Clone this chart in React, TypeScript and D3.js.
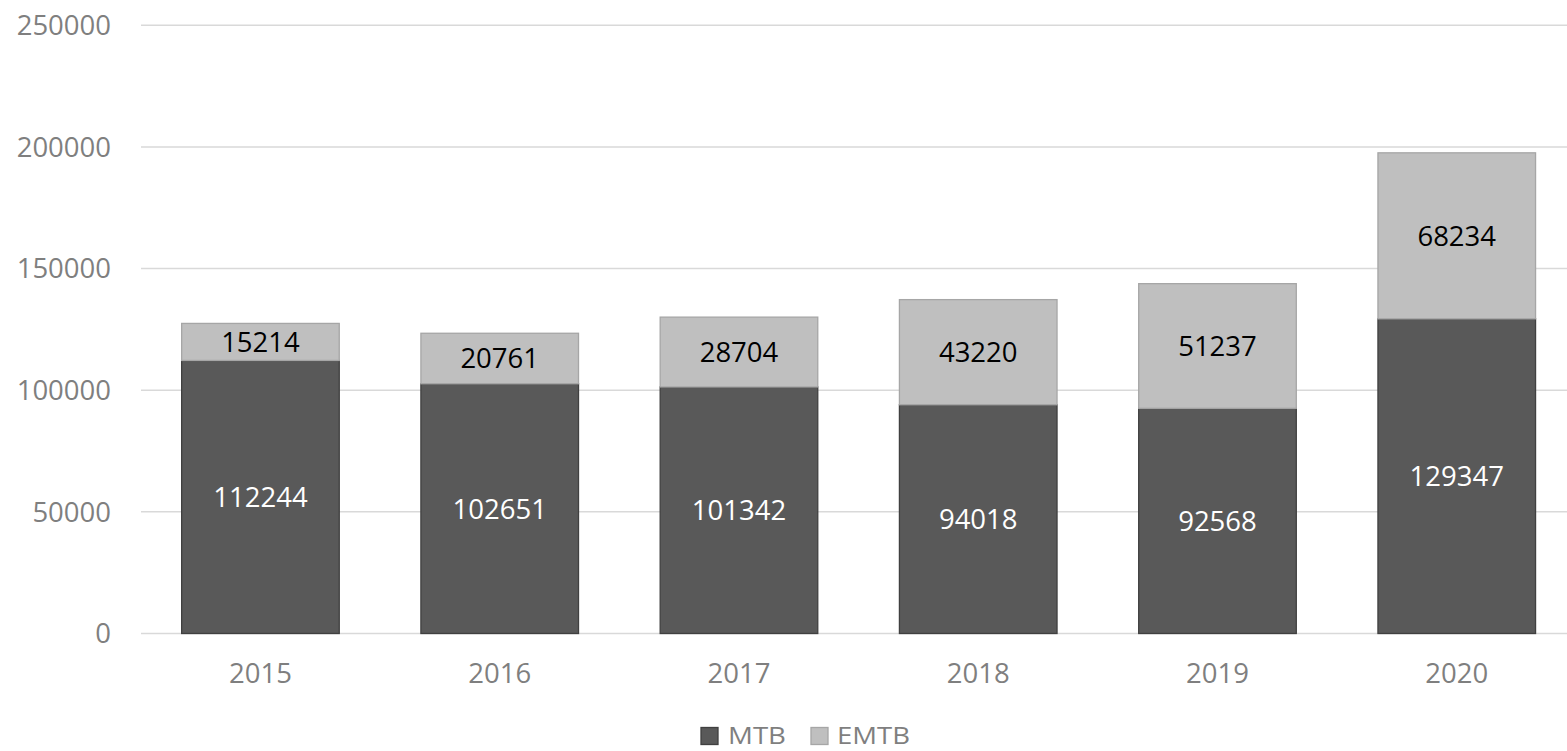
import React from "react";
import * as d3 from "d3";

const years = ["2015", "2016", "2017", "2018", "2019", "2020"];
const mtb = [112244, 102651, 101342, 94018, 92568, 129347];
const emtb = [15214, 20761, 28704, 43220, 51237, 68234];
const yTicks = [0, 50000, 100000, 150000, 200000, 250000];
const seriesNames = ["MTB", "EMTB"];

const W = 1567;
const H = 751;
const FONT = "'Open Sans', 'Liberation Sans', sans-serif";

export default function App() {
  const x = d3.scaleBand<string>().domain(years).range([141, 141 + 239.2 * 6]).paddingInner(0.3415).paddingOuter(0.17);
  const y = d3.scaleLinear().domain([0, 250000]).range([633.5, 25.3]);

  const rows = years.map((yr, i) => ({ year: yr, MTB: mtb[i], EMTB: emtb[i] }));
  const stack = d3.stack<any>().keys(seriesNames)(rows);
  const fills = ["#595959", "#bfbfbf"];
  const strokes = ["#404040", "#a6a6a6"];
  const labelColors = ["#ffffff", "#000000"];

  const bw = 157.6;
  const cx = (yr: string) => (x(yr) as number) + x.bandwidth() / 2;

  return (
    <svg width={W} height={H} style={{ position: "absolute", left: 0, top: 0, background: "#fff" }}>
      {yTicks.map((t) => (
        <g key={t}>
          <line x1={141} x2={W} y1={y(t)} y2={y(t)} stroke="#d9d9d9" strokeWidth={1.5} />
          <text x={111} y={y(t)} dy="0.36em" textAnchor="end" fontFamily={FONT} fontSize={27.5} fill="#7f7f7f">
            {t}
          </text>
        </g>
      ))}
      {stack.map((s, si) => (
        <g key={s.key}>
          {s.map((d, i) => (
            <rect
              key={i}
              x={cx(years[i]) - bw / 2}
              width={bw}
              y={y(d[1])}
              height={y(d[0]) - y(d[1])}
              fill={fills[si]}
              stroke={strokes[si]}
              strokeWidth={1.3}
            />
          ))}
        </g>
      ))}
      {stack.map((s, si) => (
        <g key={"l" + s.key}>
          {s.map((d, i) => (
            <text
              key={i}
              x={cx(years[i])}
              y={(y(d[0]) + y(d[1])) / 2}
              dy="0.36em"
              textAnchor="middle"
              fontFamily={FONT}
              fontSize={27.5}
              fill={labelColors[si]}
            >
              {si === 0 ? mtb[i] : emtb[i]}
            </text>
          ))}
        </g>
      ))}
      {years.map((yr) => (
        <text key={yr} x={cx(yr)} y={683} textAnchor="middle" fontFamily={FONT} fontSize={27.5} fill="#7f7f7f">
          {yr}
        </text>
      ))}
      <g>
        <rect x={701} y={727.5} width={17} height={17} fill="#595959" stroke="#404040" strokeWidth={1.3} />
        <text x={728} y={744} fontFamily={FONT} fontSize={24} textLength={58} lengthAdjust="spacingAndGlyphs" fill="#7f7f7f">MTB</text>
        <rect x={811} y={727.5} width={17} height={17} fill="#bfbfbf" stroke="#a6a6a6" strokeWidth={1.3} />
        <text x={837} y={744} fontFamily={FONT} fontSize={24} textLength={73} lengthAdjust="spacingAndGlyphs" fill="#7f7f7f">EMTB</text>
      </g>
    </svg>
  );
}
